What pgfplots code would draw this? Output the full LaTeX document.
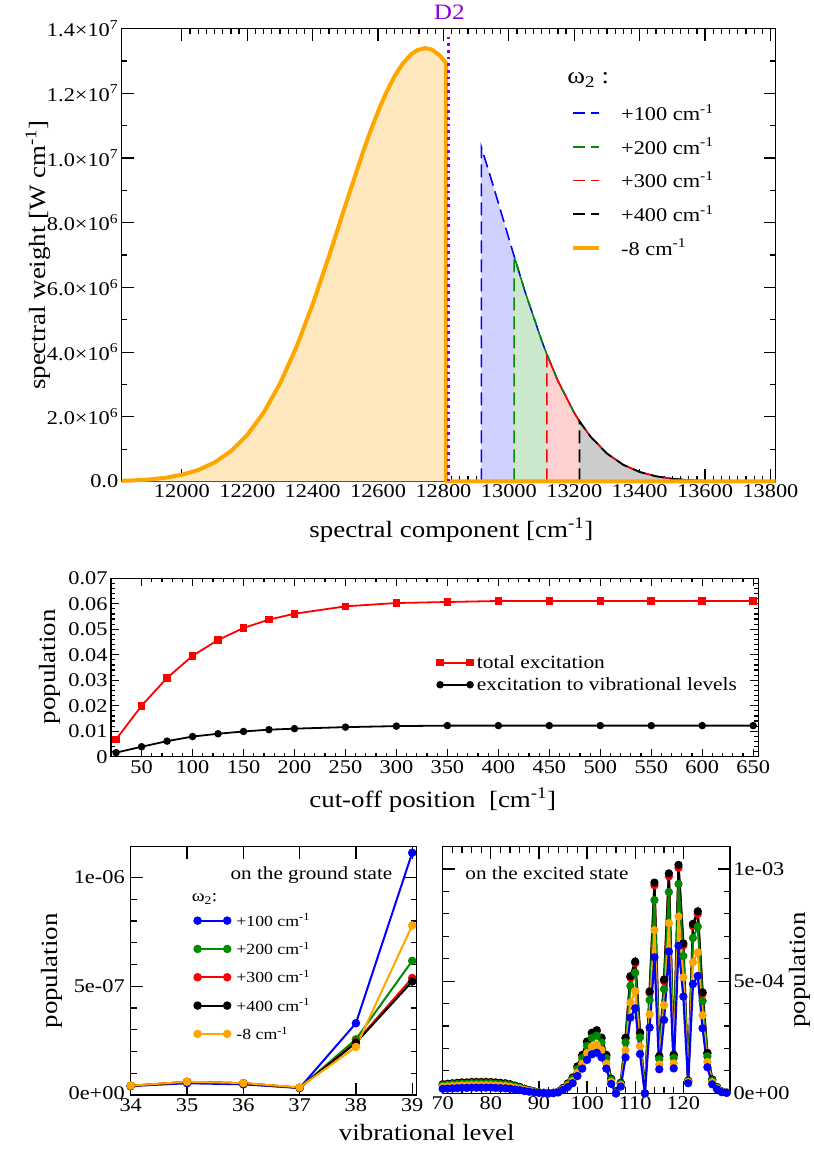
\documentclass[border=0pt]{standalone}
\usepackage{pgfplots}
\pgfplotsset{compat=1.18}
\usepackage{pgfplotstable}
\usepackage{fontspec}
\setmainfont{Liberation Serif}[FakeStretch=1.15]

\definecolor{gred}{RGB}{255,0,0}
\definecolor{ggreen}{RGB}{0,139,0}
\definecolor{gblue}{RGB}{0,0,255}
\definecolor{gorange}{RGB}{255,165,0}
\definecolor{gviolet}{RGB}{148,0,211}

\newcommand{\tickfont}{\fontsize{19.5}{22}\selectfont}
\newcommand{\labfont}{\fontsize{23.5}{27}\selectfont}
\newcommand{\cmi}{cm\textsuperscript{-1}}

\pgfplotsset{
  grace/.style={
    scale only axis, clip=false,
    axis line style={line width=1.4bp},
    tick style={black, line width=1.2bp},
    tick align=inside,
    major tick length=12bp, minor tick length=6bp,
    tick label style={font=\tickfont},
    label style={font=\labfont},
    /pgf/number format/assume math mode=true,
    /pgf/number format/1000 sep={},
    scaled ticks=false,
  },
}

% spectral weight in units of 10^6 W cm^-1
\pgfplotstableread{
x y
11816 0.0205
11850 0.0327
11900 0.0628
11950 0.1163
12000 0.207
12050 0.356
12100 0.589
12150 0.938
12200 1.440
12250 2.127
12300 3.028
12350 4.150
12400 5.480
12450 6.969
12500 8.537
12550 10.071
12575 10.786
12600 11.442
12625 12.027
12650 12.521
12675 12.916
12700 13.198
12720 13.337
12745 13.400
12765 13.352
12790 13.161
12808 12.935
12808 0
13816 0
}\specneg

\pgfplotstableread{
x y
12916 0
12916 10.329
12950 9.218
13000 7.512
13016 6.969
13050 5.854
13100 4.364
13116 3.935
13150 3.112
13200 2.122
13216 1.860
13250 1.384
13300 0.864
13350 0.515
13400 0.294
13450 0.161
13500 0.084
13550 0.042
13600 0.020
13650 0.009
13700 0.004
13816 0
}\specA

\pgfplotstableread{
x y
13016 0
13016 6.969
13050 5.854
13100 4.364
13116 3.935
13150 3.112
13200 2.122
13216 1.860
13250 1.384
13300 0.864
13350 0.515
13400 0.294
13450 0.161
13500 0.084
13550 0.042
13600 0.020
13650 0.009
13700 0.004
13816 0
}\specB

\pgfplotstableread{
x y
13116 0
13116 3.935
13150 3.112
13200 2.122
13216 1.860
13250 1.384
13300 0.864
13350 0.515
13400 0.294
13450 0.161
13500 0.084
13550 0.042
13600 0.020
13650 0.009
13700 0.004
13816 0
}\specC

\pgfplotstableread{
x y
13216 0
13216 1.860
13250 1.384
13300 0.864
13350 0.515
13400 0.294
13450 0.161
13500 0.084
13550 0.042
13600 0.020
13650 0.009
13700 0.004
13816 0
}\specD

% population vs. cut-off position
\pgfplotstableread{
c tot vib
25 0.0068 0.0016
50 0.0200 0.0039
75 0.0309 0.0061
100 0.0396 0.0079
125 0.0458 0.0090
150 0.0505 0.0099
175 0.0538 0.0106
200 0.0561 0.0110
250 0.0590 0.0116
300 0.0603 0.0120
350 0.0607 0.0122
400 0.0611 0.0122
450 0.0611 0.0122
500 0.0611 0.0122
550 0.0611 0.0122
600 0.0611 0.0122
650 0.0611 0.0122
}\cutoff

% ground-state populations, units of 1e-7
\pgfplotstableread{
v b g r k o
34 0.41 0.42 0.42 0.42 0.43
35 0.54 0.60 0.60 0.60 0.61
36 0.49 0.54 0.54 0.54 0.55
37 0.32 0.33 0.33 0.33 0.35
38 3.30 2.56 2.43 2.40 2.21
39 11.14 6.17 5.38 5.22 7.80
}\ground

% excited-state populations, units of 1e-3
\pgfplotstableread{
v b o g r k
70 .020 .029 .036 .040 .040
71 .021 .030 .038 .042 .042
72 .022 .032 .040 .044 .044
73 .023 .033 .041 .046 .046
74 .024 .035 .043 .048 .048
75 .024 .035 .043 .048 .048
76 .025 .036 .045 .050 .050
77 .025 .036 .045 .050 .050
78 .025 .036 .045 .050 .050
79 .025 .036 .045 .050 .050
80 .025 .036 .045 .050 .050
81 .024 .035 .043 .048 .048
82 .023 .033 .041 .046 .046
83 .022 .032 .040 .044 .044
84 .020 .029 .036 .040 .040
85 .017 .025 .031 .034 .034
86 .014 .020 .025 .028 .028
87 .010 .015 .018 .020 .020
88 .007 .010 .013 .014 .014
89 .004 .006 .007 .008 .008
90 .002 .003 .004 .004 .004
91 .001 .001 .002 .002 .002
92 .000 .000 .000 .000 .000
93 .001 .001 .002 .002 .002
94 .004 .005 .006 .007 .007
95 .015 .018 .021 .023 .024
96 .028 .034 .040 .043 .044
97 .045 .054 .064 .069 .070
98 .077 .092 .109 .118 .120
99 .110 .132 .156 .168 .171
100 .149 .179 .212 .228 .231
101 .174 .209 .247 .266 .270
102 .181 .217 .257 .277 .281
103 .160 .192 .227 .245 .248
104 .110 .132 .156 .168 .171
105 .042 .050 .060 .064 .065
106 .000 .000 .000 .000 .000
107 .030 .036 .043 .046 .047
108 .160 .192 .227 .245 .248
109 .337 .404 .479 .516 .522
110 .379 .455 .538 .580 .587
111 .175 .210 .249 .268 .271
112 .000 .000 .000 .000 .000
113 .293 .352 .416 .448 .454
114 .606 .727 .861 .927 .939
115 .107 .128 .152 .164 .166
116 .327 .392 .464 .500 .507
117 .632 .758 .897 .967 .980
118 .111 .133 .158 .170 .172
119 .657 .788 .933 1.005 1.018
120 .431 .517 .612 .659 .668
121 .045 .050 .053 .056 .056
122 .487 .584 .692 .745 .755
123 .523 .628 .743 .800 .811
124 .290 .348 .412 .444 .450
125 .116 .139 .165 .177 .180
126 .040 .048 .057 .061 .062
127 .018 .022 .026 .028 .028
128 .005 .006 .007 .008 .008
129 .002 .002 .003 .003 .003
}\excited

\begin{document}
\begin{tikzpicture}
\path[use as bounding box] (0,0) rectangle (814bp,1151bp);

% ---------------- spectrum ----------------
\begin{axis}[grace,
  at={(121.7bp,669.5bp)}, anchor=south west,
  width=654bp, height=452.8bp,
  xmin=11816, xmax=13816, ymin=0, ymax=14,
  xtick={12000,12200,12400,12600,12800,13000,13200,13400,13600,13800},
  minor x tick num=7,
  minor tick length=5.5bp,
  ytick={0,2,4,6,8,10,12,14},
  yticklabels={0.0,2.0×10\textsuperscript{6},4.0×10\textsuperscript{6},6.0×10\textsuperscript{6},8.0×10\textsuperscript{6},1.0×10\textsuperscript{7},1.2×10\textsuperscript{7},1.4×10\textsuperscript{7}},
  minor y tick num=1,
  xlabel={spectral component [\cmi]},
  ylabel={spectral weight [W \cmi]},
  xlabel style={at={(axis description cs:0.504,-0.107)},anchor=center},
  ylabel style={at={(axis description cs:-0.128,0.5)},anchor=center},
  legend style={draw=none, fill=none, at={(0.687,0.8377)}, anchor=north west,
    font=\fontsize{19.5}{22}\selectfont, inner sep=0pt, row sep=11.6bp, column sep=18bp},
  legend cell align=left,
  legend image code/.code={\draw[#1] (0bp,0bp) -- (26bp,0bp);},
]
\addplot[forget plot, draw=none, fill=gorange!26] table {\specneg} \closedcycle;
\addplot[forget plot, draw=none, fill=gblue!18] table {\specA} \closedcycle;
\addplot[forget plot, draw=none, fill=ggreen!20] table {\specB} \closedcycle;
\addplot[forget plot, draw=none, fill=gred!18] table {\specC} \closedcycle;
\addplot[forget plot, draw=none, fill=black!20] table {\specD} \closedcycle;
\addplot[forget plot, gblue, line width=1.6bp, dash pattern=on 13bp off 6bp] table {\specA};
\addplot[forget plot, ggreen, line width=1.6bp, dash pattern=on 13bp off 6bp] table {\specB};
\addplot[forget plot, gred, line width=1.6bp, dash pattern=on 13bp off 6bp] table {\specC};
\addplot[forget plot, black, line width=1.6bp, dash pattern=on 13bp off 6bp] table {\specD};
\addplot[forget plot, gorange, line width=4bp, line join=round] table {\specneg};
\addplot[forget plot, gviolet, line width=2.7bp, dash pattern=on 2.7bp off 4bp] coordinates {(12816,0) (12816,13.85)};

\addlegendimage{gblue, line width=1.8bp, dash pattern=on 12bp off 6bp}
\addlegendentry{+100 \cmi}
\addlegendimage{ggreen, line width=1.8bp, dash pattern=on 12bp off 6bp}
\addlegendentry{+200 \cmi}
\addlegendimage{gred, line width=1.8bp, dash pattern=on 12bp off 6bp}
\addlegendentry{+300 \cmi}
\addlegendimage{black, line width=1.8bp, dash pattern=on 12bp off 6bp}
\addlegendentry{+400 \cmi}
\addlegendimage{gorange, line width=4bp}
\addlegendentry{-8 \cmi}

\node[anchor=west, font=\fontsize{23.5}{27}\selectfont] at (axis description cs:0.676,0.887) {ω\textsubscript{2} :};
\node[text=gviolet, font=\fontsize{22}{26}\selectfont] at (axis description cs:0.501,1.037) {D2};
\end{axis}

% ---------------- population vs. cut-off ----------------
\begin{axis}[grace,
  at={(111bp,394.3bp)}, anchor=south west,
  width=647.3bp, height=178.4bp,
  major tick length=8bp, minor tick length=4bp,
  xmin=20, xmax=655, ymin=0, ymax=0.07,
  xtick={50,100,150,200,250,300,350,400,450,500,550,600,650},
  minor x tick num=4,
  ytick={0,0.01,0.02,0.03,0.04,0.05,0.06,0.07},
  yticklabels={0,0.01,0.02,0.03,0.04,0.05,0.06,0.07},
  minor y tick num=4,
  xlabel={cut-off position \ [\cmi]},
  ylabel={population},
  xlabel style={at={(axis description cs:0.497,-0.243)},anchor=center},
  ylabel style={at={(axis description cs:-0.0942,0.504)},anchor=center},
  legend style={draw=none, fill=none, at={(0.5036,0.58)}, anchor=north west,
    font=\fontsize{18.7}{22}\selectfont, inner sep=0pt, row sep=3.7bp, column sep=2bp},
  legend cell align=left,
  legend image code/.code={\draw[#1] plot coordinates {(0bp,0bp) (30bp,0bp)};},
]
\addplot[gred, line width=1.8bp, mark=square*, mark size=2.9bp] table[x=c, y=tot] {\cutoff};
\addlegendentry{total excitation}
\addplot[black, line width=1.8bp, mark=*, mark size=2.8bp] table[x=c, y=vib] {\cutoff};
\addlegendentry{excitation to vibrational levels}
\end{axis}

% ---------------- ground state ----------------
\begin{axis}[grace,
  at={(130.7bp,56bp)}, anchor=south west,
  width=286bp, height=248.3bp,
  xmin=34, xmax=39.08, ymin=0, ymax=11.42,
  xtick={34,35,36,37,38,39},
  ytick={0,5,10}, yticklabels={\raisebox{3.5bp}{0e+00},5e-07,1e-06},
  yticklabel style={xshift=-2.5bp},
  minor y tick num=4,
  xlabel={vibrational level},
  ylabel={population},
  xlabel style={at={(axis description cs:1.035,-0.153)},anchor=center},
  ylabel style={at={(axis description cs:-0.275,0.5)},anchor=center},
  legend style={draw=none, fill=none, at={(0.222,0.739)}, anchor=north west,
    font=\fontsize{15.5}{18}\selectfont, inner sep=0pt, row sep=10.5bp, column sep=4bp},
  legend cell align=left,
  legend image code/.code={\draw[#1] plot coordinates {(0bp,0bp) (29.6bp,0bp)};},
  every axis plot/.append style={line width=2bp, mark=*, mark size=3.2bp},
]
\addplot[gblue] table[x=v, y=b] {\ground};
\addlegendentry{+100 \cmi}
\addplot[ggreen] table[x=v, y=g] {\ground};
\addlegendentry{+200 \cmi}
\addplot[gred] table[x=v, y=r] {\ground};
\addlegendentry{+300 \cmi}
\addplot[black] table[x=v, y=k] {\ground};
\addlegendentry{+400 \cmi}
\addplot[gorange] table[x=v, y=o] {\ground};
\addlegendentry{-8 \cmi}
\node[anchor=west, font=\fontsize{17}{20}\selectfont] at (axis description cs:0.2014,0.789) {ω\textsubscript{2}:};
\node[font=\fontsize{18.5}{22}\selectfont] at (axis description cs:0.632,0.886) {on the ground state};
\end{axis}

% ---------------- excited state ----------------
\begin{axis}[grace,
  at={(442.7bp,57.7bp)}, anchor=south west,
  width=287.3bp, height=246.7bp,
  xmin=70, xmax=129.7, ymin=0, ymax=1.0996,
  xtick={70,80,90,100,110,120},
  minor x tick num=4,
  ytick={0,0.5,1}, yticklabels={0e+00,5e-04,1e-03},
  minor y tick num=4,
  yticklabel pos=right,
  ylabel={population},
  ylabel style={at={(axis description cs:1.2436,0.5)},anchor=center},
  every axis plot/.append style={line width=2.2bp, mark=*, mark size=3bp},
]
\addplot[gred] table[x=v, y=r] {\excited};
\addplot[black] table[x=v, y=k] {\excited};
\addplot[ggreen] table[x=v, y=g] {\excited};
\addplot[gorange] table[x=v, y=o] {\excited};
\addplot[gblue] table[x=v, y=b] {\excited};
\node[font=\fontsize{18.5}{22}\selectfont] at (axis description cs:0.363,0.892) {on the excited state};
\end{axis}
\end{tikzpicture}
\end{document}
